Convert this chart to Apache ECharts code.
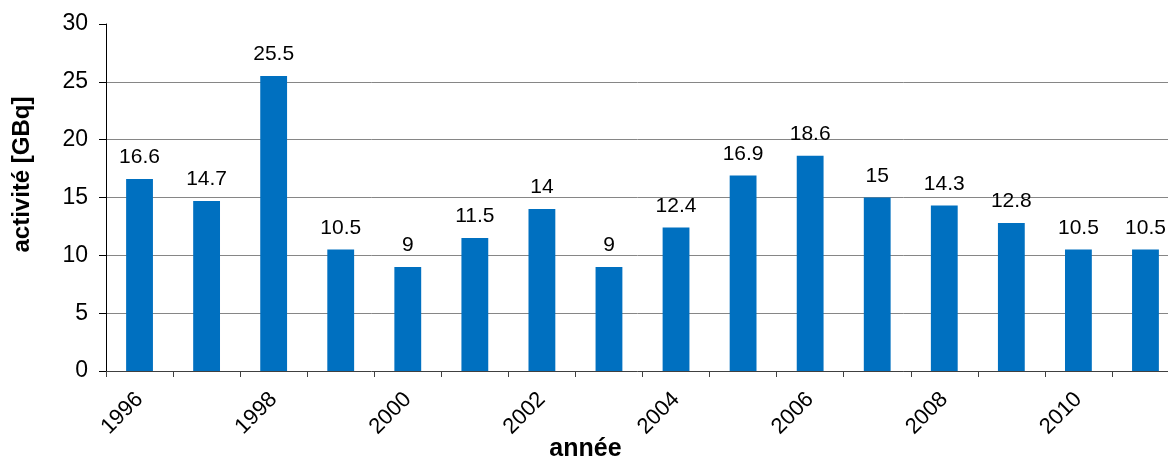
<!DOCTYPE html>
<html>
<head>
<meta charset="utf-8">
<script src="https://cdn.jsdelivr.net/npm/echarts@6/dist/echarts.min.js"></script>
<style>
  html, body { margin: 0; padding: 0; background: #fff; }
  #chart { width: 1168px; height: 459px; }
</style>
</head>
<body>
<div id="chart"></div>
<script>
// Activité annuelle (GBq), 1996–2011
const years = ['1996', '1997', '1998', '1999', '2000', '2001', '2002', '2003',
               '2004', '2005', '2006', '2007', '2008', '2009', '2010', '2011'];
const activite = [16.6, 14.7, 25.5, 10.5, 9, 11.5, 14, 9,
                  12.4, 16.9, 18.6, 15, 14.3, 12.8, 10.5, 10.5];
const yTicks = [0, 5, 10, 15, 20, 25, 30];

const FONT = 'Liberation Sans, Arial, sans-serif';

const chart = echarts.init(document.getElementById('chart'), null, { renderer: 'canvas' });

chart.setOption({
  animation: false,
  backgroundColor: '#ffffff',
  textStyle: { fontFamily: FONT },
  grid: { left: 106, right: -11, top: 24, bottom: 88, containLabel: false, outerBoundsMode: 'none' },
  xAxis: {
    type: 'category',
    data: years,
    boundaryGap: true,
    name: 'année',
    nameLocation: 'middle',
    nameGap: 66,
    nameMoveOverlap: false,
    nameTextStyle: { fontFamily: FONT, fontSize: 25, fontWeight: 'bold', color: '#000', padding: [0, 114, 0, 0] },
    axisLine: { show: true, lineStyle: { color: '#404040', width: 1 } },
    axisTick: { show: true, length: 6, alignWithLabel: false, interval: 0, lineStyle: { color: '#404040' } },
    axisLabel: {
      interval: 1,
      rotate: 45,
      margin: 25,
      fontFamily: FONT,
      fontSize: 22,
      color: '#000'
    },
    splitLine: { show: false }
  },
  yAxis: {
    type: 'value',
    min: yTicks[0],
    max: yTicks[yTicks.length - 1],
    interval: yTicks[1] - yTicks[0],
    name: 'activité [GBq]',
    nameLocation: 'middle',
    nameGap: 72,
    nameMoveOverlap: false,
    nameTextStyle: { fontFamily: FONT, fontSize: 24, fontWeight: 'bold', color: '#000', padding: [0, 0, 0, 46] },
    axisLine: { show: true, lineStyle: { color: '#000', width: 1 } },
    axisTick: { show: true, length: 7, lineStyle: { color: '#000' } },
    axisLabel: { margin: 18, fontFamily: FONT, fontSize: 23, color: '#000' },
    splitLine: { show: true, showMinLine: false, showMaxLine: false, lineStyle: { color: '#868686', width: 1 } }
  },
  series: [{
    type: 'bar',
    data: activite,
    barWidth: '40%',
    itemStyle: { color: '#0070C0' },
    label: {
      show: true,
      position: 'top',
      distance: 11,
      fontFamily: FONT,
      fontSize: 21,
      color: '#000'
    }
  }]
});
</script>
</body>
</html>
